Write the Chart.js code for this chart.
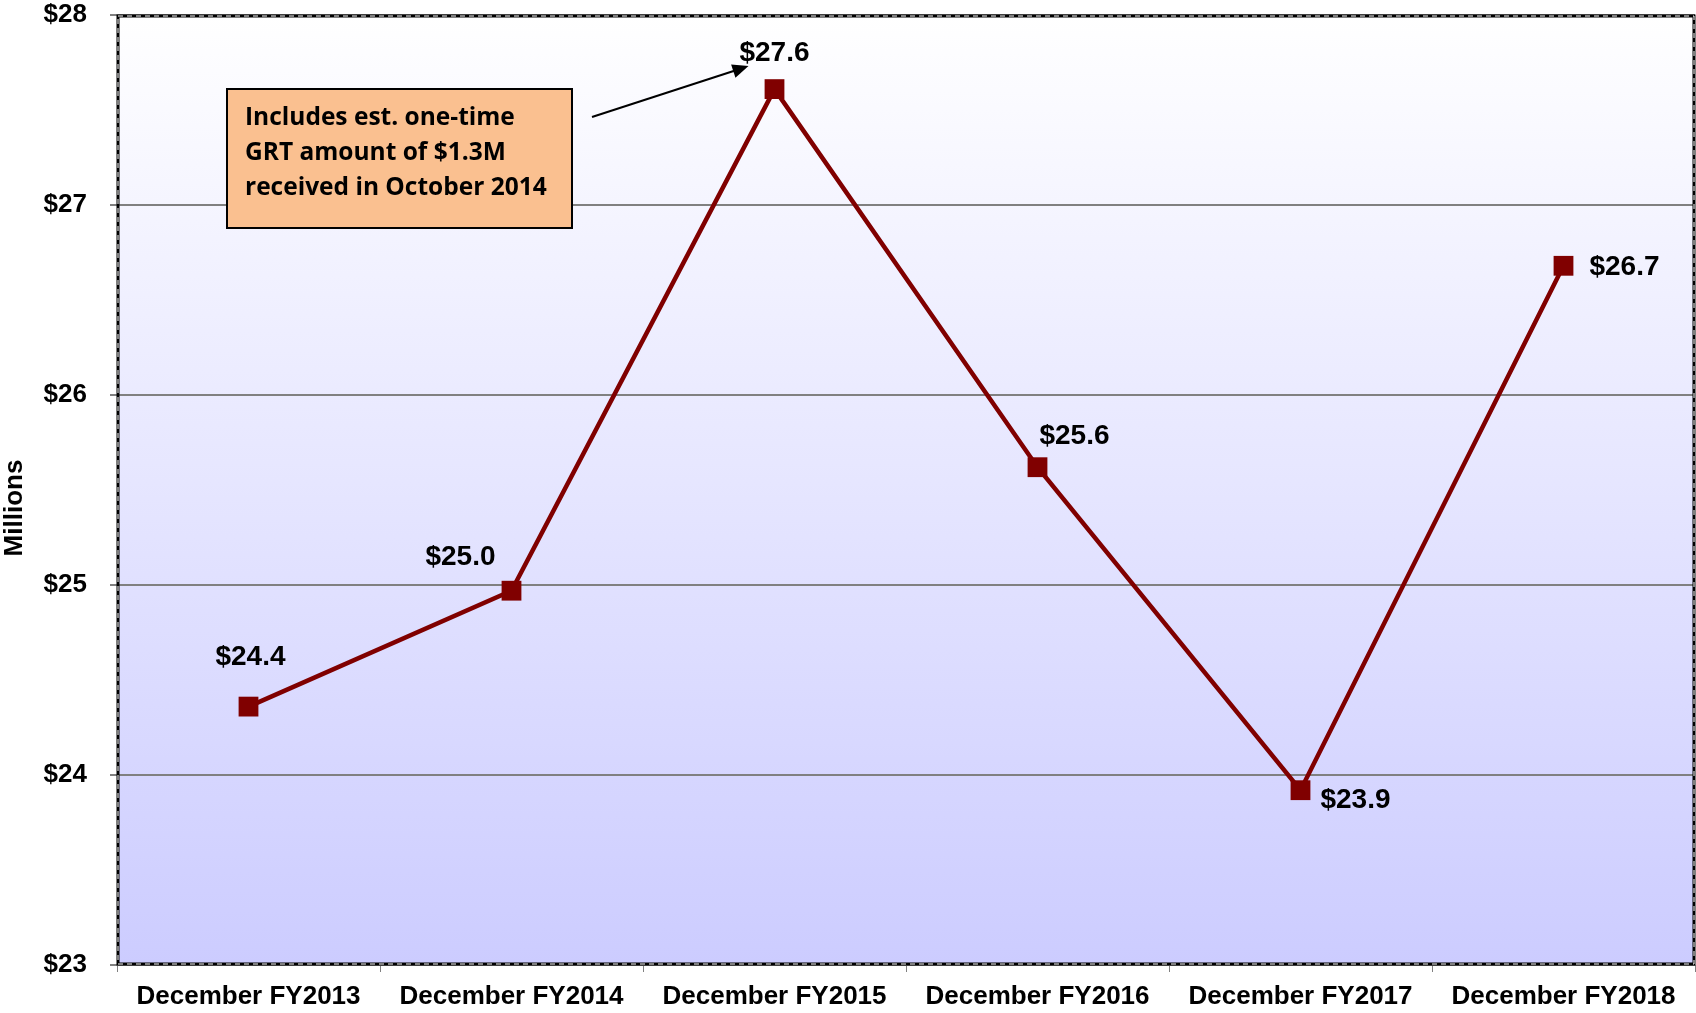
<!DOCTYPE html>
<html>
<head>
<meta charset="utf-8">
<title>December revenue FY2013-FY2018</title>
<script src="https://cdn.jsdelivr.net/npm/chart.js@4.4.1/dist/chart.umd.min.js"></script>
<style>
  html, body { margin: 0; padding: 0; background: #fff; }
  #wrap { width: 1696px; height: 1013px; }
</style>
</head>
<body>
<div id="wrap"><canvas id="myChart" width="1696" height="1013"></canvas></div>
<script>
'use strict';

var categories = ['December FY2013', 'December FY2014', 'December FY2015',
                  'December FY2016', 'December FY2017', 'December FY2018'];
var revenue = [24.36, 24.97, 27.61, 25.62, 23.92, 26.68];
var valueLabels = ['$24.4', '$25.0', '$27.6', '$25.6', '$23.9', '$26.7'];
var yTicks = [23, 24, 25, 26, 27, 28];
var noteLines = ['Includes est. one-time', 'GRT amount of $1.3M', 'received in October 2014'];

// where each value label sits relative to its point (px)
var labelOffsets = [[2, -49], [-51, -33], [0, -36], [37, -31], [55, 10], [61, 1]];

var ctx = document.getElementById('myChart');

var backgroundPlugin = {
  id: 'plotBackground',
  beforeDraw: function(chart) {
    var a = chart.chartArea, c = chart.ctx;
    var g = c.createLinearGradient(0, a.top, 0, a.bottom);
    g.addColorStop(0, '#ffffff');
    g.addColorStop(1, '#ccccff');
    c.save();
    c.fillStyle = g;
    c.fillRect(a.left, a.top, a.right - a.left, a.bottom - a.top);
    c.restore();
  },
  beforeDatasetsDraw: function(chart) {
    var a = chart.chartArea, c = chart.ctx;
    c.save();
    c.lineWidth = 3;
    c.strokeStyle = '#000';
    c.strokeRect(a.left + 1, a.top + 1, a.right - a.left - 2, a.bottom - a.top - 2);
    c.lineWidth = 1;
    c.strokeStyle = '#fff';
    c.setLineDash([5, 4]);
    c.strokeRect(a.left + 1, a.top + 1, a.right - a.left - 2, a.bottom - a.top - 2);
    c.restore();

    // y axis title, sits a little below the axis middle like the original
    c.save();
    c.translate(15, 508);
    c.rotate(-Math.PI / 2);
    c.font = 'bold 26px "Liberation Sans", Arial, sans-serif';
    c.fillStyle = '#000';
    c.textAlign = 'center';
    c.textBaseline = 'middle';
    c.fillText('Millions', 0, 0);
    c.restore();
  }
};

var labelPlugin = {
  id: 'valueLabels',
  afterDatasetsDraw: function(chart) {
    var c = chart.ctx;
    var pts = chart.getDatasetMeta(0).data;
    c.save();
    c.font = 'bold 28px "Liberation Sans", Arial, sans-serif';
    c.fillStyle = '#000';
    c.textAlign = 'center';
    c.textBaseline = 'middle';
    pts.forEach(function(p, i) {
      c.fillText(valueLabels[i], p.x + labelOffsets[i][0], p.y + labelOffsets[i][1]);
    });

    // annotation box with arrow to the FY2015 point
    var bx = 227, by = 89, bw = 345, bh = 139;
    c.fillStyle = '#fac090';
    c.fillRect(bx, by, bw, bh);
    c.lineWidth = 2;
    c.strokeStyle = '#000';
    c.strokeRect(bx, by, bw, bh);
    c.fillStyle = '#000';
    c.textAlign = 'left';
    c.font = 'bold 24.5px "Open Sans", sans-serif';
    noteLines.forEach(function(t, i) {
      c.fillText(t, bx + 18, by + 29 + i * 35);
    });

    var peak = pts[2];
    var x0 = 592, y0 = 117;
    var x1 = peak.x - 26, y1 = peak.y - 23;
    var ang = Math.atan2(y1 - y0, x1 - x0);
    c.lineWidth = 2;
    c.beginPath();
    c.moveTo(x0, y0);
    c.lineTo(x1 - 10 * Math.cos(ang), y1 - 10 * Math.sin(ang));
    c.stroke();
    c.beginPath();
    c.moveTo(x1, y1);
    c.lineTo(x1 - 16 * Math.cos(ang) + 7 * Math.sin(ang), y1 - 16 * Math.sin(ang) - 7 * Math.cos(ang));
    c.lineTo(x1 - 16 * Math.cos(ang) - 7 * Math.sin(ang), y1 - 16 * Math.sin(ang) + 7 * Math.cos(ang));
    c.closePath();
    c.fill();
    c.restore();
  }
};

var tickFont = { family: '"Liberation Sans", Arial, sans-serif', size: 26, weight: 'bold' };

var myChart = new Chart(ctx, {
  type: 'line',
  data: {
    labels: categories,
    datasets: [{
      data: revenue,
      borderColor: '#800000',
      borderWidth: 4.5,
      backgroundColor: '#800000',
      pointStyle: 'rect',
      pointRadius: 14,
      pointBorderWidth: 0,
      tension: 0
    }]
  },
  plugins: [backgroundPlugin, labelPlugin],
  options: {
    responsive: false,
    animation: false,
    layout: { autoPadding: false, padding: { top: 15, right: 1, left: 0, bottom: 0 } },
    plugins: { legend: { display: false }, tooltip: { enabled: false } },
    scales: {
      x: {
        offset: true,
        grid: { offset: true, drawOnChartArea: false, tickLength: 7, color: '#808080', lineWidth: 1 },
        border: { display: false },
        ticks: { color: '#000', font: tickFont, padding: 9, maxRotation: 0, autoSkip: false },
        afterFit: function(s) { s.height = 48; s.paddingLeft = 0; s.paddingRight = 0; }
      },
      y: {
        min: 23,
        max: 28,
        afterBuildTicks: function(s) { s.ticks = yTicks.map(function(v) { return { value: v }; }); },
        grid: { color: '#808080', lineWidth: 2, tickLength: 7 },
        border: { display: false },
        ticks: {
          color: '#000',
          font: tickFont,
          padding: 23,
          callback: function(v) { return '$' + v; }
        },
        afterFit: function(s) { s.width = 117; s.paddingTop = 0; s.paddingBottom = 0; }
      }
    }
  }
});
</script>
</body>
</html>
